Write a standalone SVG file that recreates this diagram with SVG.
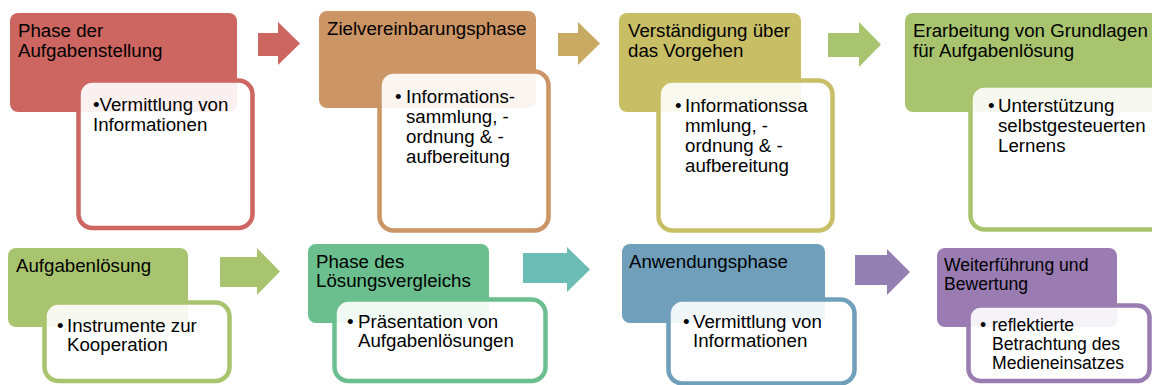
<svg xmlns="http://www.w3.org/2000/svg" width="1152" height="385" viewBox="0 0 1152 385">
<style>
text{font-family:"Liberation Sans",Arial,sans-serif;font-size:18.7px;fill:#000}
.sm{font-size:17.6px}
.box{fill:#fff;fill-opacity:0.9;stroke-width:4.5}
</style>
<rect width="1152" height="385" fill="#fff"/>
<g id="connectors">
<polygon points="258,33 278,33 278,22 300,43.5 278,65 278,56 258,56" fill="#CD6661"/>
<polygon points="558,33 578,33 578,22 600,43.5 578,65 578,56 558,56" fill="#C9AA63"/>
<polygon points="828,33 859,33 859,22 881,44.5 859,67 859,57 828,57" fill="#A9C46E"/>
<polygon points="220,257 257,257 257,248 280,271.5 257,295 257,287 220,287" fill="#A9C46E"/>
<polygon points="523,253 567,253 567,247 590,269.5 567,292 567,283 523,283" fill="#6CBDB6"/>
<polygon points="855,255 887,255 887,249 910,272 887,295 887,285 855,285" fill="#9480B3"/>
</g>
<g id="node1">
<rect x="10" y="13" width="227" height="99" rx="8" fill="#CD6661"/>
<rect class="box" x="78.5" y="80.5" width="174" height="147.5" rx="14" stroke="#CD6661"/>
<text x="18" y="37">Phase der<tspan x="18" y="57">Aufgabenstellung</tspan></text>
<text x="93" y="111">•Vermittlung von<tspan x="93" y="131">Informationen</tspan></text>
</g>
<g id="node2">
<rect x="319" y="11" width="217" height="97" rx="8" fill="#CC9566"/>
<rect class="box" x="379.5" y="71.5" width="169" height="159" rx="14" stroke="#CC9566"/>
<text x="327" y="35">Zielvereinbarungsphase</text>
<text x="395" y="103">•</text>
<text x="406" y="103">Informations-<tspan x="406" y="123">sammlung, -</tspan><tspan x="406" y="143">ordnung &amp; -</tspan><tspan x="406" y="163">aufbereitung</tspan></text>
</g>
<g id="node3">
<rect x="619" y="13" width="182" height="99" rx="8" fill="#C8BE66"/>
<rect class="box" x="658.5" y="80.5" width="174" height="150" rx="14" stroke="#C8BE66"/>
<text x="628" y="37">Verständigung über<tspan x="628" y="57">das Vorgehen</tspan></text>
<text x="675" y="112">•</text>
<text x="685" y="112">Informationssa<tspan x="685" y="132">mmlung, -</tspan><tspan x="685" y="152">ordnung &amp; -</tspan><tspan x="685" y="172">aufbereitung</tspan></text>
</g>
<g id="node4">
<rect x="905" y="13" width="260" height="99" rx="8" fill="#A9C46E"/>
<rect class="box" x="970.5" y="85.5" width="200" height="144" rx="14" stroke="#A9C46E"/>
<text x="913" y="37">Erarbeitung von Grundlagen<tspan x="913" y="57">für Aufgabenlösung</tspan></text>
<text x="988" y="112">•</text>
<text x="998" y="112">Unterstützung<tspan x="998" y="132">selbstgesteuerten</tspan><tspan x="998" y="152">Lernens</tspan></text>
</g>
<g id="node5">
<rect x="8" y="248" width="180" height="79" rx="8" fill="#A9C46E"/>
<rect class="box" x="44.5" y="302.5" width="185" height="78.5" rx="14" stroke="#A9C46E"/>
<text x="16" y="272">Aufgabenlösung</text>
<text x="57" y="332">•</text>
<text x="67" y="332">Instrumente zur<tspan x="67" y="351">Kooperation</tspan></text>
</g>
<g id="node6">
<rect x="308" y="244" width="181" height="79" rx="8" fill="#6BBF8E"/>
<rect class="box" x="334.5" y="299.5" width="211" height="81.5" rx="14" stroke="#6BBF8E"/>
<text x="316" y="268">Phase des<tspan x="316" y="287">Lösungsvergleichs</tspan></text>
<text x="347" y="328">•</text>
<text x="358" y="328">Präsentation von<tspan x="358" y="347">Aufgabenlösungen</tspan></text>
</g>
<g id="node7">
<rect x="622" y="244" width="203" height="79" rx="8" fill="#709FBC"/>
<rect class="box" x="668.5" y="299.5" width="186" height="84" rx="14" stroke="#709FBC"/>
<text x="629" y="268">Anwendungsphase</text>
<text x="683" y="328">•</text>
<text x="693" y="328">Vermittlung von<tspan x="693" y="347">Informationen</tspan></text>
</g>
<g id="node8">
<rect x="937" y="248" width="180" height="79" rx="8" fill="#9A7CB3"/>
<rect class="box" x="968.5" y="305.5" width="181" height="75.5" rx="12" stroke="#9A7CB3"/>
<text class="sm" x="944" y="271">Weiterführung und<tspan x="944" y="290">Bewertung</tspan></text>
<text class="sm" x="980" y="331">•</text>
<text class="sm" x="992" y="331">reflektierte<tspan x="992" y="350">Betrachtung des</tspan><tspan x="992" y="369">Medieneinsatzes</tspan></text>
</g>
</svg>
